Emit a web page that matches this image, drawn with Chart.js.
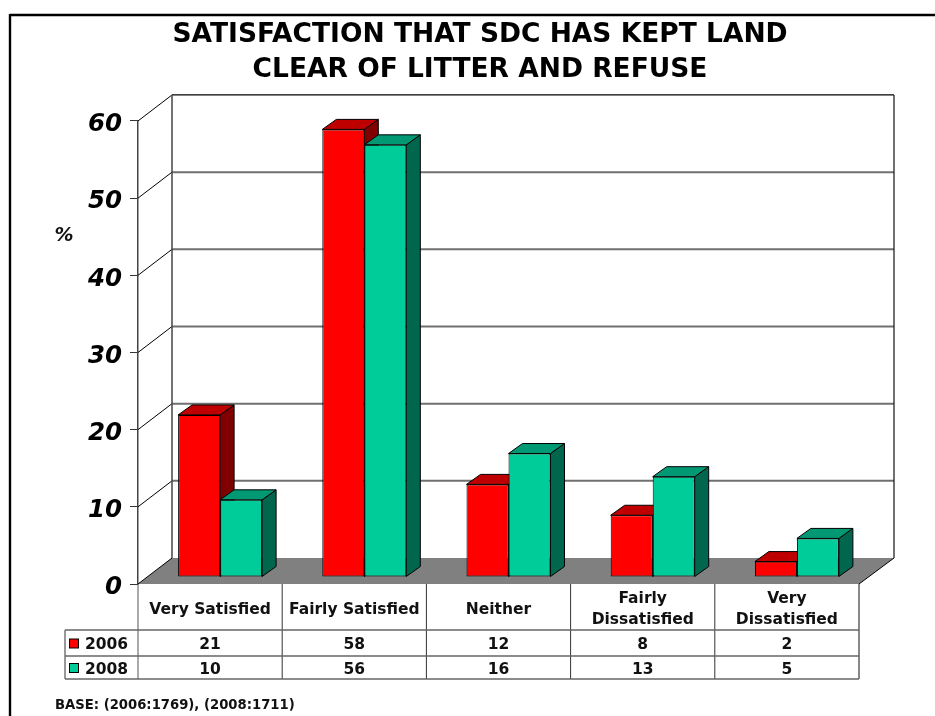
<!DOCTYPE html>
<html>
<head>
<meta charset="utf-8">
<style>html,body{margin:0;padding:0;background:#fff}#wrap{width:935px;height:716px;position:relative}canvas{display:block}</style>
<script src="https://cdn.jsdelivr.net/npm/chart.js@4"></script>
</head>
<body>
<div id="wrap"><canvas id="c" width="935" height="716"></canvas></div>
<script>
const titleLines = ["SATISFACTION THAT SDC HAS KEPT LAND", "CLEAR OF LITTER AND REFUSE"];
const categories = ["Very Satisfied", "Fairly Satisfied", "Neither", "Fairly Dissatisfied", "Very Dissatisfied"];
const categoryLines = [["Very Satisfied"], ["Fairly Satisfied"], ["Neither"], ["Fairly", "Dissatisfied"], ["Very", "Dissatisfied"]];
const series2006 = [21, 58, 12, 8, 2];
const series2008 = [10, 56, 16, 13, 5];
const seriesNames = ["2006", "2008"];
const footnote = "BASE: (2006:1769), (2008:1711)";
const unitLabel = "%";

const FONT = '"DejaVu Sans"';
const WALL = {dx: 34, dy: -26};
const BAR_OFFSET = {dx: 10, dy: -7};
const BAR_DEPTH = {dx: 14, dy: -10};
const faces = [
  {front: "#FF0000", top: "#BF0000", side: "#800000"},
  {front: "#00CC99", top: "#009973", side: "#00664D"}
];

function poly(ctx, pts, fill, stroke, lw) {
  ctx.beginPath();
  pts.forEach((p, i) => i ? ctx.lineTo(p[0], p[1]) : ctx.moveTo(p[0], p[1]));
  ctx.closePath();
  if (fill) { ctx.fillStyle = fill; ctx.fill(); }
  if (stroke) { ctx.strokeStyle = stroke; ctx.lineWidth = lw || 1; ctx.stroke(); }
}
function line(ctx, x1, y1, x2, y2, color, lw) {
  ctx.beginPath(); ctx.moveTo(x1, y1); ctx.lineTo(x2, y2);
  ctx.strokeStyle = color; ctx.lineWidth = lw; ctx.stroke();
}

const scene3d = {
  id: "scene3d",
  afterLayout(chart) {
    // centre the title block over the same axis as the reference
    chart.titleBlock.left = 25;
    chart.titleBlock.right = 935;
  },
  beforeDatasetsDraw(chart) {
    const {ctx, chartArea: a, scales: {y}} = chart;
    ctx.save();
    const bx = WALL.dx, by = WALL.dy;
    // floor
    const y0 = y.getPixelForValue(0);
    poly(ctx, [[a.left, y0], [a.left + bx, y0 + by], [a.right + bx + 1, y0 + by], [a.right, y0]], "#808080");
    // grid on back wall and left wall
    y.ticks.forEach(t => {
      const py = y.getPixelForValue(t.value);
      if (t.value > 0) {
        const isTop = t.value === y.max;
        line(ctx, a.left + bx, py + by, a.right + bx + 1, py + by, isTop ? "#000" : "#707070", isTop ? 1.2 : 2);
      }
      line(ctx, a.left, py, a.left + bx, py + by, "#000", 1);
    });
    const yTop = y.getPixelForValue(y.max);
    line(ctx, a.left + bx, yTop + by, a.left + bx, y0 + by, "#444", 1.5);
    line(ctx, a.right + bx + 1, yTop + by, a.right + bx + 1, y0 + by, "#111", 1.2);
    line(ctx, a.right, y0, a.right + bx + 1, y0 + by, "#000", 1);

    // bar tops and sides, drawn from the bars' own geometry
    ctx.translate(BAR_OFFSET.dx, BAR_OFFSET.dy);
    const d = BAR_DEPTH;
    const n = chart.data.labels.length;
    for (let i = 0; i < n; i++) {
      chart.data.datasets.forEach((ds, k) => {
        const b = chart.getDatasetMeta(k).data[i];
        const L = b.x - b.width / 2, R = b.x + b.width / 2;
        poly(ctx, [[R, b.base], [R + d.dx, b.base + d.dy], [R + d.dx, b.y + d.dy], [R, b.y]], faces[k].side, "#000", 1);
        poly(ctx, [[L, b.y], [L + d.dx, b.y + d.dy], [R + d.dx, b.y + d.dy], [R, b.y]], faces[k].top, "#000", 1);
      });
    }
    // front faces are drawn by Chart.js in the same translated frame
  },
  afterDatasetsDraw(chart) {
    chart.ctx.restore();
  },
  afterDraw(chart) {
    const {ctx, chartArea: a, scales: {x, y}} = chart;
    ctx.save();
    // outer frame
    line(ctx, 10, 15, 935, 15, "#000", 2.4);
    line(ctx, 10, 14, 10, 716, "#000", 2.4);

    // data table
    const y0 = y.getPixelForValue(0);
    const rowY = [y0, 630, 656, 679];
    const legendLeft = 65;
    const edges = [a.left];
    const step = (a.right - a.left) / categories.length;
    categories.forEach((_, i) => edges.push(x.getPixelForValue(i) + step / 2));
    edges.forEach((ex, i) => {
      line(ctx, ex, y0, ex, rowY[3], i === 0 ? "#555" : (i === edges.length - 1 ? "#111" : "#333"), 1);
    });
    line(ctx, legendLeft, rowY[1], legendLeft, rowY[3], "#333", 1);
    line(ctx, legendLeft, rowY[1], a.right, rowY[1], "#666", 1.5);
    line(ctx, legendLeft, rowY[2], a.right, rowY[2], "#666", 1.5);
    line(ctx, legendLeft, rowY[3], a.right, rowY[3], "#666", 1.5);

    ctx.fillStyle = "#111";
    ctx.textBaseline = "middle";
    ctx.textAlign = "center";
    ctx.font = "bold 15.5px " + FONT;
    categoryLines.forEach((ls, i) => {
      const cx = x.getPixelForValue(i);
      const cy = (rowY[0] + rowY[1]) / 2 + 2.5;
      ls.forEach((t, j) => ctx.fillText(t, cx, cy + (j - (ls.length - 1) / 2) * 21));
    });
    [series2006, series2008].forEach((vals, r) => {
      const cy = (rowY[r + 1] + rowY[r + 2]) / 2 + 2;
      vals.forEach((v, i) => ctx.fillText(String(v), x.getPixelForValue(i), cy));
      ctx.fillStyle = faces[r].front;
      ctx.fillRect(69.5, cy - 6, 9, 9);
      ctx.strokeStyle = "#000"; ctx.lineWidth = 1;
      ctx.strokeRect(69.5, cy - 6, 9, 9);
      ctx.fillStyle = "#111";
      ctx.textAlign = "left";
      ctx.fillText(seriesNames[r], 85, cy);
      ctx.textAlign = "center";
    });

    // unit label and footnote
    ctx.font = "italic bold 19px " + FONT;
    ctx.textAlign = "center";
    ctx.fillText(unitLabel, 64, 236);
    ctx.font = "bold 13.2px " + FONT;
    ctx.textAlign = "left";
    ctx.fillText(footnote, 55, 706);
    ctx.restore();
  }
};

new Chart(document.getElementById("c"), {
  type: "bar",
  plugins: [scene3d],
  data: {
    labels: categories,
    datasets: [
      {label: seriesNames[0], data: series2006, backgroundColor: faces[0].front, borderColor: "#000", borderWidth: 1, borderSkipped: false, clip: false},
      {label: seriesNames[1], data: series2008, backgroundColor: faces[1].front, borderColor: "#000", borderWidth: 1, borderSkipped: false, clip: false}
    ]
  },
  options: {
    responsive: false,
    animation: false,
    events: [],
    layout: {autoPadding: false, padding: {left: 0, right: 76, top: 18, bottom: 0}},
    datasets: {bar: {categoryPercentage: 0.5825, barPercentage: 1}},
    plugins: {
      legend: {display: false},
      tooltip: {enabled: false},
      title: {
        display: true,
        text: titleLines,
        color: "#000",
        font: {family: FONT, size: 26.5, weight: "bold", lineHeight: 1.32},
        padding: {top: 0, bottom: 33}
      }
    },
    scales: {
      x: {
        grid: {display: false},
        border: {display: false},
        ticks: {display: false},
        afterFit(s) { s.height = 132; }
      },
      y: {
        min: 0, max: 60,
        grid: {drawOnChartArea: false, drawTicks: true, tickLength: 8, color: "#333"},
        border: {display: true, color: "#444", width: 1.5},
        ticks: {
          stepSize: 10,
          color: "#000",
          padding: 8,
          labelOffset: 4,
          font: {family: FONT, size: 24.5, style: "italic", weight: "bold"}
        },
        afterFit(s) { s.width = 138; }
      }
    }
  }
});
</script>
</body>
</html>
